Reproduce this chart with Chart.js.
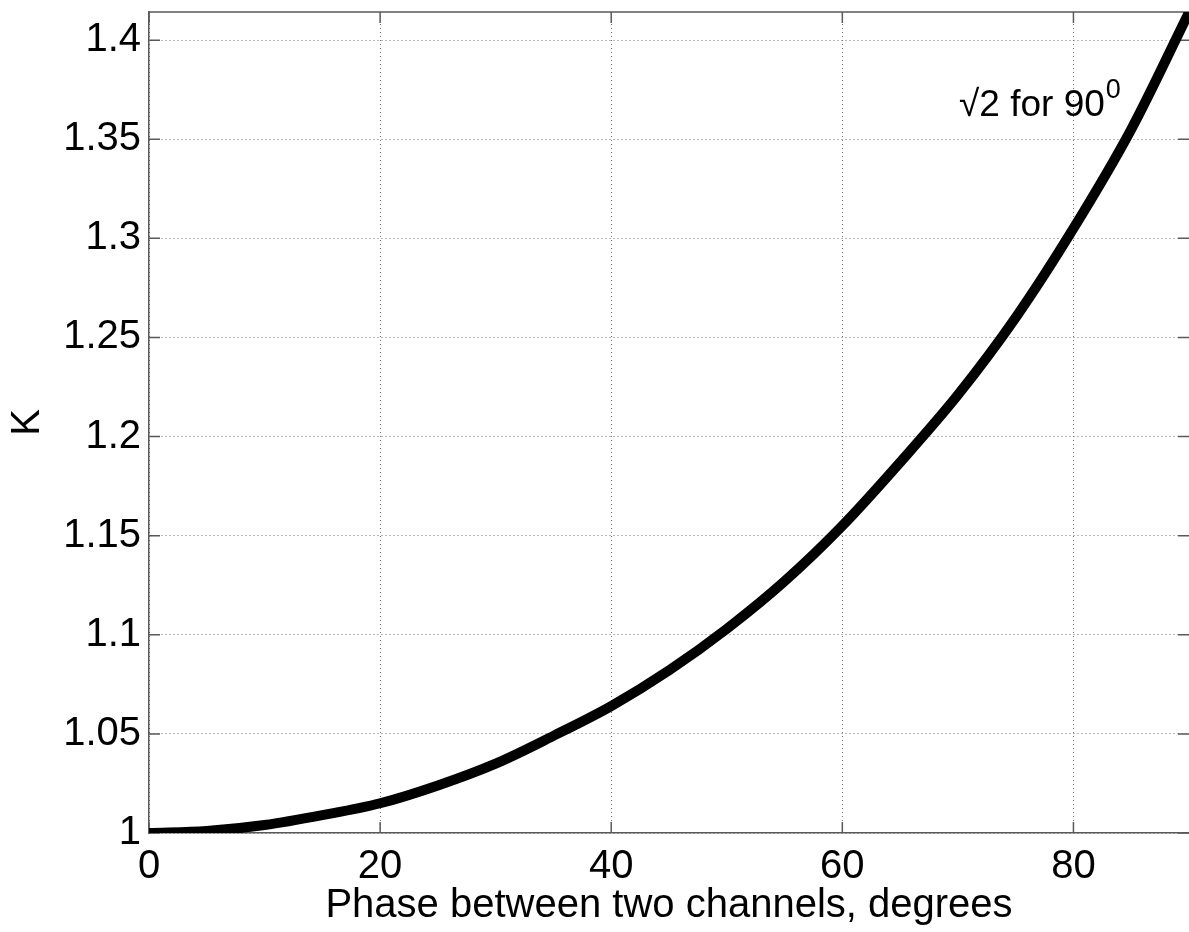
<!DOCTYPE html>
<html lang="en">
<head>
<meta charset="UTF-8">
<title>K vs phase between two channels</title>
<script src="https://cdn.jsdelivr.net/npm/chart.js"></script>
<style>
  html, body { margin: 0; padding: 0; background: #fff; }
</style>
</head>
<body>
<canvas id="kChart" width="1189" height="932"></canvas>
<script>
// values
const phaseDeg = [0, 5, 10, 15, 20, 25, 30, 35, 40, 45, 50, 55, 60, 65, 70, 75, 80, 85, 90];
const kValues = [1.000, 1.001, 1.004, 1.009, 1.015, 1.024, 1.035, 1.049, 1.064, 1.082,
                 1.103, 1.127, 1.155, 1.187, 1.221, 1.260, 1.305, 1.355, 1.414];
const xTicks = [0, 20, 40, 60, 80];
const yTicks = [1, 1.05, 1.1, 1.15, 1.2, 1.25, 1.3, 1.35, 1.4];

// note placement (data coords)
const noteText = '\u221A2 for 90';
const noteSup = '0';
const noteAt = { x: 70.1, y: 1.3615 };

Chart.defaults.font.family = '"Liberation Sans", Arial, sans-serif';
Chart.defaults.color = '#000';

const axisColor = '#5a5a5a';
const gridColor = '#707070';

// top border, inward tick marks on all sides, and the sqrt(2) note
const frameTicks = {
    id: 'frameTicks',
    beforeDatasetsDraw(chart) {
        const { ctx, chartArea: a, scales: { x, y } } = chart;
        const len = 11;
        ctx.save();
        ctx.strokeStyle = axisColor;
        ctx.lineWidth = 1.5;
        ctx.beginPath();
        ctx.moveTo(a.left, a.top);
        ctx.lineTo(a.right, a.top);
        x.ticks.forEach(t => {
            const px = x.getPixelForValue(t.value);
            ctx.moveTo(px, a.bottom); ctx.lineTo(px, a.bottom - len);
            ctx.moveTo(px, a.top); ctx.lineTo(px, a.top + len);
        });
        y.ticks.forEach(t => {
            const py = y.getPixelForValue(t.value);
            ctx.moveTo(a.left, py); ctx.lineTo(a.left + len, py);
            ctx.moveTo(a.right, py); ctx.lineTo(a.right - len, py);
        });
        ctx.stroke();
        ctx.restore();
    },
    afterDatasetsDraw(chart) {
        const { ctx, scales: { x, y } } = chart;
        const px = x.getPixelForValue(noteAt.x);
        const py = y.getPixelForValue(noteAt.y);
        ctx.save();
        ctx.fillStyle = '#000';
        ctx.textBaseline = 'alphabetic';
        ctx.font = '37px "Liberation Sans", Arial, sans-serif';
        ctx.fillText(noteText, px, py);
        const w = ctx.measureText(noteText).width;
        ctx.font = '27px "Liberation Sans", Arial, sans-serif';
        ctx.fillText(noteSup, px + w + 1, py - 18);
        ctx.restore();
    }
};

new Chart(document.getElementById('kChart'), {
    type: 'line',
    data: {
        datasets: [{
            data: phaseDeg.map((p, i) => ({ x: p, y: kValues[i] })),
            borderColor: '#000',
            borderWidth: 10,
            pointRadius: 0,
            fill: false,
            cubicInterpolationMode: 'monotone',
            clip: 0
        }]
    },
    options: {
        responsive: false,
        animation: false,
        layout: { autoPadding: false, padding: { top: 12, right: 0, bottom: 0, left: 0 } },
        plugins: { legend: { display: false }, tooltip: { enabled: false } },
        scales: {
            x: {
                type: 'linear',
                min: 0,
                max: 90,
                afterBuildTicks: s => { s.ticks = xTicks.map(v => ({ value: v })); },
                afterFit: s => { s.height = 99; s.paddingLeft = 0; s.paddingRight = 0; },
                grid: { color: gridColor, lineWidth: 1, drawTicks: false },
                border: { display: true, color: axisColor, width: 1.5, dash: [1, 3] },
                ticks: { font: { size: 40 }, padding: 10, maxRotation: 0, callback: v => String(v) },
                title: {
                    display: true,
                    text: 'Phase between two channels, degrees',
                    font: { size: 40 },
                    padding: { top: 0, bottom: 2 }
                }
            },
            y: {
                type: 'linear',
                min: 1,
                max: 1.4142,
                afterBuildTicks: s => { s.ticks = yTicks.map(v => ({ value: v })); },
                afterFit: s => { s.width = 149; s.paddingTop = 0; s.paddingBottom = 0; },
                grid: { color: gridColor, lineWidth: 1, drawTicks: false },
                border: { display: true, color: axisColor, width: 1.5, dash: [1, 3] },
                ticks: { font: { size: 40 }, padding: 8, callback: v => String(+v.toFixed(2)) },
                title: {
                    display: true,
                    text: 'K',
                    font: { size: 40 },
                    padding: { top: 4, bottom: 0 }
                }
            }
        }
    },
    plugins: [frameTicks]
});
</script>
</body>
</html>
